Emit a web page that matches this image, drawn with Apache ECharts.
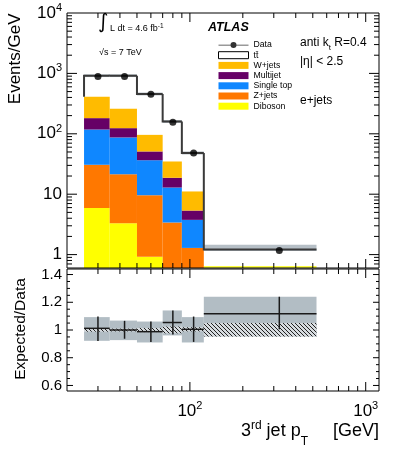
<!DOCTYPE html>
<html>
<head>
  <title>3rd jet pT</title>
  <meta http-equiv="Content-Type" content="text/html; charset=utf-8" />
  <script src="https://cdn.jsdelivr.net/npm/echarts@6/dist/echarts.min.js"></script>
  <style>
    html, body { margin: 0; padding: 0; background: #fff; }
    #chart-main { width: 399px; height: 449px; }
  </style>
</head>
<body>
<div id="chart-main"></div>
<script type="text/javascript">
// ---- data ----
var binEdges = [25, 35, 50, 70, 90, 120, 525];

var dataValues      = [891, 886, 451, 155, 48, 1.17];
var ttbarValues     = [505, 656, 360, 125, 37.2, 0.82];
var wjetsValues     = [229, 136, 45, 16.1, 5.74, 0.25];
var multijetValues  = [64, 37, 14.5, 5.8, 1.6, 0.05];
var singletopValues = [87, 65.6, 26.9, 9.5, 2.47, 0.06];
var zjetsValues     = [24.8, 18.1, 8.7, 3.1, 1.14, 0.03];
var dibosonValues   = [5.9, 3.3, 0.92, 0.3, 0.15, 0.01];
var totalBandLow    = [870, 870, 432, 151, 45.5, 1.15];
var totalBandHigh   = [965, 965, 482, 169, 51, 1.45];

var ratioValues   = [1.012, 1.0, 0.988, 1.054, 1.005, 1.118];
var ratioErrLow   = [0.921, 0.937, 0.914, 0.968, 0.914, 1.005];
var ratioErrHigh  = [1.097, 1.066, 1.061, 1.141, 1.097, 1.24];
var systBandLow   = [0.922, 0.927, 0.91, 0.961, 0.91, 0.953];
var systBandHigh  = [1.093, 1.068, 1.061, 1.141, 1.093, 1.24];
var statBandLow   = [0.988, 0.99, 0.985, 0.976, 0.99, 0.953];
var statBandHigh  = [1.012, 1.01, 1.015, 1.025, 1.02, 1.05];

// ---- axes / ticks ----
var xMin = 20, xMax = 1190;
var yMinTop = 0.6, yMaxTop = 10000;
var yMinRatio = 0.56, yMaxRatio = 1.44;

var xMajorTicks = [100, 1000];
var xMinorTicks = [30, 40, 50, 60, 70, 80, 90, 200, 300, 400, 500, 600, 700, 800, 900];
var yMajorTicksTop = [1, 10, 100, 1000];
var yMinorTicksTop = [0.7, 0.8, 0.9, 2, 3, 4, 5, 6, 7, 8, 9, 20, 30, 40, 50, 60, 70, 80, 90,
                      200, 300, 400, 500, 600, 700, 800, 900, 2000, 3000, 4000, 5000, 6000, 7000, 8000, 9000];
var ratioMajorTicks = [0.6, 0.8, 1.0, 1.2, 1.4];
var ratioMinorTicks = [0.65, 0.7, 0.75, 0.85, 0.9, 0.95, 1.05, 1.1, 1.15, 1.25, 1.3, 1.35];
var ratioTickLabels = ['0.6', '0.8', '1', '1.2', '1.4'];

var FONT = '"Liberation Sans", Arial, Helvetica, sans-serif';

var processes = [
  { name: 'Diboson',    color: '#ffff00', values: dibosonValues },
  { name: 'Z+jets',     color: '#ff7800', values: zjetsValues },
  { name: 'Single top', color: '#0f87ff', values: singletopValues },
  { name: 'Multijet',   color: '#660066', values: multijetValues },
  { name: 'W+jets',     color: '#ffbb00', values: wjetsValues }
];
var TTBAR = 'tt\u0304';

function binRows(fn) {
  var rows = [];
  for (var i = 0; i < binEdges.length - 1; i++) rows.push(fn(i, binEdges[i], binEdges[i + 1]));
  return rows;
}

// stack totals of the small backgrounds
var stackTotal = binRows(function (i) {
  var s = 0;
  processes.forEach(function (p) { s += p.values[i]; });
  return s;
});

function makeHatch() {
  var c = document.createElement('canvas');
  c.width = 4; c.height = 4;
  var ctx = c.getContext('2d');
  ctx.fillStyle = '#d6dbdf';
  ctx.fillRect(0, 0, 4, 4);
  ctx.strokeStyle = '#222';
  ctx.lineWidth = 1;
  ctx.beginPath();
  ctx.moveTo(-1, -1); ctx.lineTo(5, 5);
  ctx.moveTo(-1, 3); ctx.lineTo(1, 5);
  ctx.moveTo(3, -1); ctx.lineTo(5, 1);
  ctx.stroke();
  return c;
}
var hatch = makeHatch();

function boxRenderer(fill, floorY, opacity) {
  return function (params, api) {
    var lo = api.value(0), hi = api.value(1);
    var y0 = Math.max(api.value(2), floorY), y1 = api.value(3);
    if (y1 <= floorY) {
      if (api.value(4) === 1) {
        var f0 = api.coord([lo, floorY]), f1 = api.coord([hi, floorY]);
        return { type: 'line', shape: { x1: f0[0], y1: f0[1] - 1, x2: f1[0], y2: f1[1] - 1 },
                 style: { stroke: fill, lineWidth: 1.5 } };
      }
      return null;
    }
    var a = api.coord([lo, y1]), b = api.coord([hi, y0]);
    return { type: 'rect', shape: { x: a[0], y: a[1], width: b[0] - a[0], height: b[1] - a[1] },
             style: { fill: fill, opacity: opacity == null ? 1 : opacity } };
  };
}

var series = [];

// stacked backgrounds
var cum = binRows(function () { return 0; });
processes.forEach(function (p, k) {
  var rows = binRows(function (i, lo, hi) {
    var base = cum[i], top = cum[i] + p.values[i];
    cum[i] = top;
    var floorLine = (k === 0 && stackTotal[i] < yMinTop) ? 1 : 0;
    return [lo, hi, base, top, floorLine];
  });
  series.push({
    name: p.name, type: 'custom', xAxisIndex: 0, yAxisIndex: 0, z: 2,
    itemStyle: { color: p.color },
    renderItem: boxRenderer(p.color, yMinTop),
    data: rows
  });
});

// ttbar outline (total)
series.push({
  name: TTBAR, type: 'custom', xAxisIndex: 0, yAxisIndex: 0, z: 4,
  itemStyle: { color: '#fff' },
  renderItem: function (params, api) {
    var lo = api.value(0), hi = api.value(1), tot = api.value(2), prev = api.value(3);
    var pts = [api.coord([lo, Math.max(prev, yMinTop)]), api.coord([lo, tot]), api.coord([hi, tot])];
    return { type: 'polyline', shape: { points: pts }, style: { stroke: '#3a3a3a', lineWidth: 2, fill: null } };
  },
  data: binRows(function (i, lo, hi) {
    var tot = stackTotal[i] + ttbarValues[i];
    var prev = i === 0 ? stackTotal[0] : stackTotal[i - 1] + ttbarValues[i - 1];
    return [lo, hi, tot, prev];
  })
});

// uncertainty band on total
series.push({
  name: 'band', type: 'custom', xAxisIndex: 0, yAxisIndex: 0, z: 3, silent: true,
  renderItem: boxRenderer('#a9b4bc', yMinTop, 0.85),
  data: binRows(function (i, lo, hi) { return [lo, hi, totalBandLow[i], totalBandHigh[i], 0]; })
});

// data points
series.push({
  name: 'Data', type: 'scatter', xAxisIndex: 0, yAxisIndex: 0, z: 6,
  symbol: 'circle', symbolSize: 7, itemStyle: { color: '#000' },
  data: binRows(function (i, lo, hi) { return [(lo + hi) / 2, dataValues[i]]; })
});

// ratio: syst band
series.push({
  name: 'syst', type: 'custom', xAxisIndex: 1, yAxisIndex: 1, z: 2, silent: true,
  renderItem: boxRenderer('#b2bdc4', yMinRatio),
  data: binRows(function (i, lo, hi) { return [lo, hi, systBandLow[i], systBandHigh[i], 0]; })
});
// ratio: stat band (hatched)
series.push({
  name: 'stat', type: 'custom', xAxisIndex: 1, yAxisIndex: 1, z: 3, silent: true,
  renderItem: boxRenderer({ image: hatch, repeat: 'repeat' }, yMinRatio),
  data: binRows(function (i, lo, hi) { return [lo, hi, statBandLow[i], statBandHigh[i], 0]; })
});
// ratio: points with error bars
series.push({
  name: 'ratio', type: 'custom', xAxisIndex: 1, yAxisIndex: 1, z: 4, silent: true,
  renderItem: function (params, api) {
    var lo = api.value(0), hi = api.value(1), v = api.value(2);
    var cx = (lo + hi) / 2;
    var h0 = api.coord([lo, v]), h1 = api.coord([hi, v]);
    var e0 = api.coord([cx, api.value(3)]), e1 = api.coord([cx, api.value(4)]);
    var st = { stroke: '#1a1a1a', lineWidth: 1.5 };
    return { type: 'group', children: [
      { type: 'line', shape: { x1: h0[0], y1: h0[1], x2: h1[0], y2: h1[1] }, style: st },
      { type: 'line', shape: { x1: e0[0], y1: e0[1], x2: e1[0], y2: e1[1] }, style: st }
    ] };
  },
  data: binRows(function (i, lo, hi) { return [lo, hi, ratioValues[i], ratioErrLow[i], ratioErrHigh[i]]; })
});

// frames, ticks (inside on all four sides)
function frameRenderer(yLo, yHi, yMajor, yMinor, xLen, yLen, labels) {
  return function (params, api) {
    var kids = [];
    var st = { stroke: '#000', lineWidth: 1 };
    function seg(p, dx, dy) {
      kids.push({ type: 'line', shape: { x1: p[0], y1: p[1], x2: p[0] + dx, y2: p[1] + dy }, style: st });
    }
    xMajorTicks.forEach(function (v) { seg(api.coord([v, yLo]), 0, -xLen[0]); seg(api.coord([v, yHi]), 0, xLen[0]); });
    xMinorTicks.forEach(function (v) { seg(api.coord([v, yLo]), 0, -xLen[1]); seg(api.coord([v, yHi]), 0, xLen[1]); });
    yMajor.forEach(function (v) { seg(api.coord([xMin, v]), yLen[0], 0); seg(api.coord([xMax, v]), -yLen[0], 0); });
    yMinor.forEach(function (v) { seg(api.coord([xMin, v]), yLen[1], 0); seg(api.coord([xMax, v]), -yLen[1], 0); });
    var a = api.coord([xMin, yHi]), b = api.coord([xMax, yLo]);
    kids.push({ type: 'rect', shape: { x: a[0], y: a[1], width: b[0] - a[0], height: b[1] - a[1] },
                style: { stroke: '#000', lineWidth: 1, fill: null } });
    if (labels) {
      yMajor.forEach(function (v, i) {
        var p = api.coord([xMin, v]);
        kids.push({ type: 'text', x: p[0] - 5, y: p[1],
                    style: { text: labels[i], align: 'right', verticalAlign: 'middle',
                             fontSize: 15, fontFamily: FONT, fill: '#000' } });
      });
    }
    return { type: 'group', children: kids };
  };
}

series.push({
  name: 'frameTop', type: 'custom', xAxisIndex: 0, yAxisIndex: 0, z: 10, silent: true,
  renderItem: frameRenderer(yMinTop, yMaxTop, yMajorTicksTop, yMinorTicksTop, [9, 5], [10, 5], null),
  data: [[xMin, yMinTop]]
});
series.push({
  name: 'frameRatio', type: 'custom', xAxisIndex: 1, yAxisIndex: 1, z: 10, silent: true,
  renderItem: frameRenderer(yMinRatio, yMaxRatio, ratioMajorTicks, ratioMinorTicks, [9, 5], [6, 3], ratioTickLabels),
  data: [[xMin, 1]]
});

function powerLabel(value) {
  var l = Math.log10(value), e = Math.round(l);
  if (Math.abs(l - e) > 1e-6) return '';
  if (e === 0) return '{b|1}';
  if (e === 1) return '{b|10}';
  return '{b|10}{s|' + e + '}';
}
var powerRich = {
  b: { fontSize: 17, lineHeight: 22, verticalAlign: 'middle', fontFamily: FONT, color: '#000' },
  s: { fontSize: 11, lineHeight: 11, verticalAlign: 'top', padding: [0.5, 0, 0, 0], fontFamily: FONT, color: '#000' }
};

var hidden = { show: false };

var option = {
  animation: false,
  backgroundColor: '#fff',
  textStyle: { fontFamily: FONT },
  grid: [
    { left: 67, right: 20, top: 13, height: 255, containLabel: false, outerBoundsMode: 'none' },
    { left: 67, right: 20, top: 269, height: 122, containLabel: false, outerBoundsMode: 'none' }
  ],
  xAxis: [
    { gridIndex: 0, type: 'log', logBase: 10, min: xMin, max: xMax,
      axisLine: hidden, axisTick: hidden, axisLabel: hidden, splitLine: hidden },
    { gridIndex: 1, type: 'log', logBase: 10, min: xMin, max: xMax,
      axisLine: hidden, axisTick: hidden, splitLine: hidden,
      axisLabel: { margin: 9, formatter: powerLabel, rich: powerRich, hideOverlap: false } }
  ],
  yAxis: [
    { gridIndex: 0, type: 'log', logBase: 10, min: yMinTop, max: yMaxTop,
      axisLine: hidden, axisTick: hidden, splitLine: hidden,
      axisLabel: { margin: 5, formatter: powerLabel, rich: powerRich, hideOverlap: false } },
    { gridIndex: 1, type: 'value', min: yMinRatio, max: yMaxRatio,
      axisLine: hidden, axisTick: hidden, splitLine: hidden, axisLabel: hidden }
  ],
  legend: {
    orient: 'vertical', left: 213, top: 35.5,
    itemWidth: 30, itemHeight: 7, itemGap: 1.2,
    selectedMode: false,
    textStyle: { fontSize: 8.7, lineHeight: 9, color: '#000', fontFamily: FONT },
    data: [
      { name: 'Data', icon: 'path://M0,3.2h30v0.9h-30z M15,0.5a3,3 0 1,1 0,6a3,3 0 1,1 0,-6z', itemStyle: { color: '#000' } },
      { name: TTBAR, icon: 'rect', itemStyle: { color: '#fff', borderColor: '#000', borderWidth: 1 } },
      { name: 'W+jets', icon: 'rect' },
      { name: 'Multijet', icon: 'rect' },
      { name: 'Single top', icon: 'rect' },
      { name: 'Z+jets', icon: 'rect' },
      { name: 'Diboson', icon: 'rect' }
    ]
  },
  graphic: [
    { type: 'text', x: 98, y: 23, style: { text: '\u222B', fontSize: 20, fontFamily: '"DejaVu Sans"', verticalAlign: 'middle', fill: '#000' } },
    { type: 'text', x: 110, y: 29, style: {
        text: '{n|L dt = 4.6 fb}{s|-1}', verticalAlign: 'middle',
        rich: { n: { fontSize: 9, lineHeight: 12, verticalAlign: 'middle', fontFamily: FONT, fill: '#000' },
                s: { fontSize: 6.5, lineHeight: 7, verticalAlign: 'top', fontFamily: FONT, fill: '#000' } } } },
    { type: 'text', x: 99, y: 53, style: { text: '\u221As = 7 TeV', fontSize: 9, fontFamily: FONT, verticalAlign: 'middle', fill: '#000' } },
    { type: 'text', x: 208, y: 27.5, style: { text: 'ATLAS', font: 'italic bold 12.5px ' + FONT, verticalAlign: 'middle', fill: '#000' } },
    { type: 'text', x: 300, y: 43, style: {
        text: '{n|anti k}{t|t}{n| R=0.4}', verticalAlign: 'middle',
        rich: { n: { fontSize: 12, lineHeight: 17, verticalAlign: 'middle', fontFamily: FONT, fill: '#000' },
                t: { fontSize: 8, lineHeight: 8, verticalAlign: 'bottom', fontFamily: FONT, fill: '#000' } } } },
    { type: 'text', x: 300, y: 62, style: { text: '|\u03B7| < 2.5', fontSize: 12, fontFamily: FONT, verticalAlign: 'middle', fill: '#000' } },
    { type: 'text', x: 300, y: 100.5, style: { text: 'e+jets', fontSize: 12, fontFamily: FONT, verticalAlign: 'middle', fill: '#000' } },
    { type: 'text', x: 15, y: 13.5, rotation: Math.PI / 2, style: { text: 'Events/GeV', fontSize: 17, fontFamily: FONT, align: 'right', verticalAlign: 'middle', fill: '#000' } },
    { type: 'text', x: 21, y: 329, rotation: Math.PI / 2, style: { text: 'Expected/Data', fontSize: 15.5, fontFamily: FONT, align: 'center', verticalAlign: 'middle', fill: '#000' } },
    { type: 'text', x: 379, y: 431.5, style: {
        text: '{n|3}{u|rd}{n| jet p}{d|T}{n|     [GeV]}', align: 'right', verticalAlign: 'middle',
        rich: { n: { fontSize: 18, lineHeight: 32, verticalAlign: 'middle', fontFamily: FONT, fill: '#000' },
                u: { fontSize: 12, lineHeight: 12, verticalAlign: 'top', padding: [4.5, 0, 0, 0], fontFamily: FONT, fill: '#000' },
                d: { fontSize: 12, lineHeight: 12, verticalAlign: 'bottom', fontFamily: FONT, fill: '#000' } } } }
  ],
  series: series
};

var myChart = echarts.init(document.getElementById('chart-main'));
myChart.setOption(option);
</script>
</body>
</html>
